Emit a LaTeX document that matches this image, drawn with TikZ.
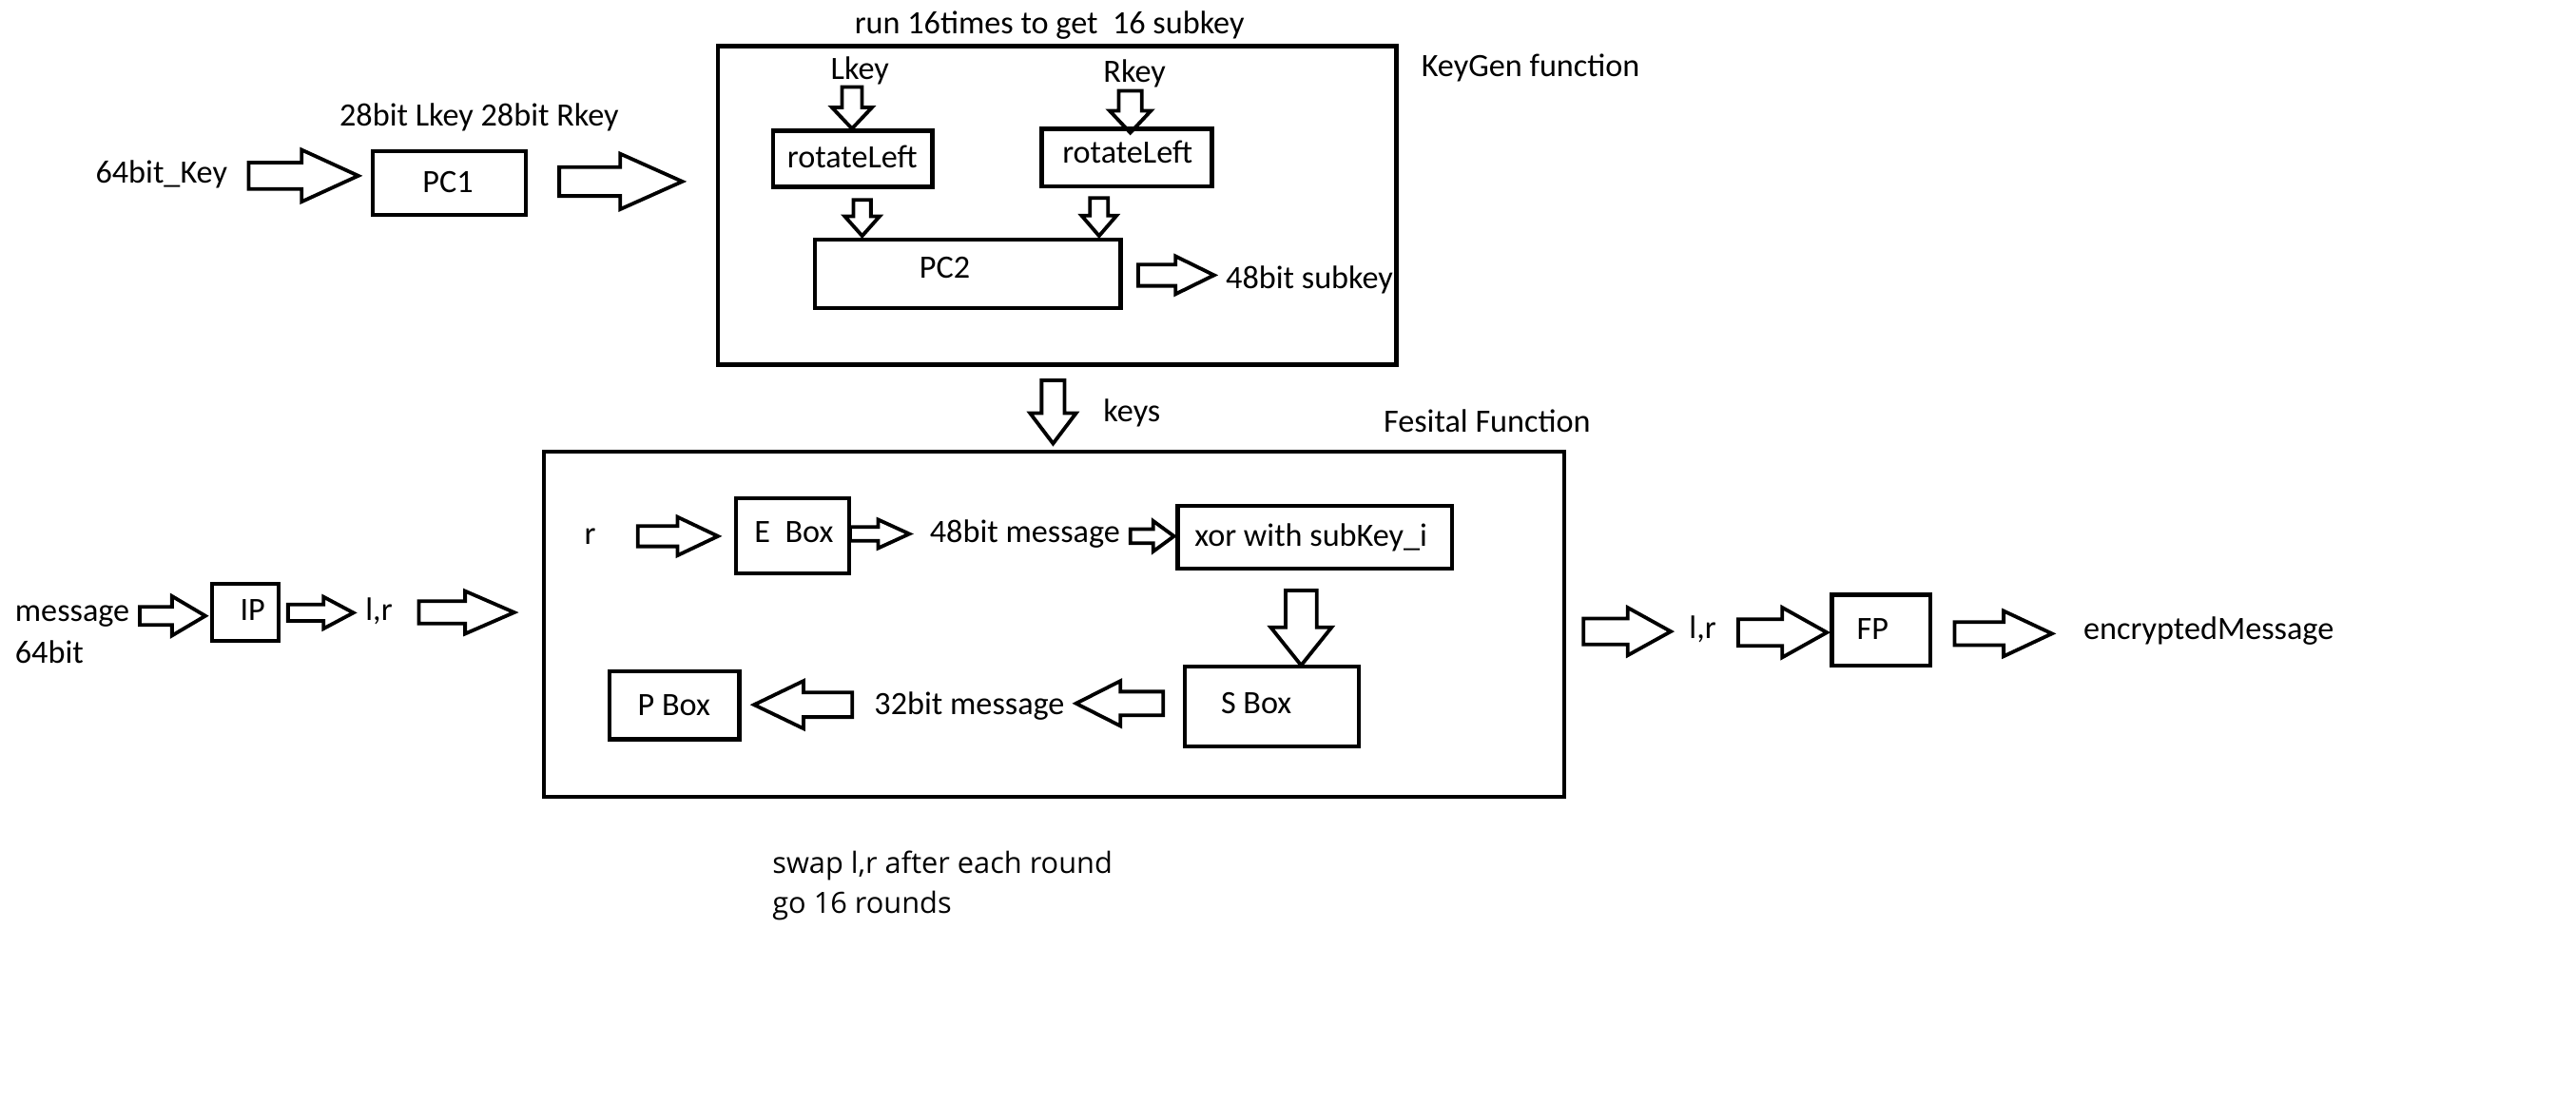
\documentclass[tikz,border=0pt]{standalone}
\usepackage{fontspec}
\setmainfont{Carlito}
\newfontfamily\notefont{Open Sans}
\usetikzlibrary{fit}
\tikzset{
  box/.style={draw, line width=2.5pt, inner sep=0pt},
  blk/.style={draw, line width=2.2pt, fill=white, line join=miter},
  txt/.style={inner sep=0pt, anchor=base west, font=\fontsize{19.8}{24}\selectfont},
  note/.style={inner sep=0pt, anchor=base west, font=\notefont\fontsize{17.8}{22}\selectfont},
}
% horizontal block arrow: tail x, tip x, centre y, shaft half, head half, head start x
\newcommand\blockH[6]{\draw[blk] (#1,{#3-#4}) -- (#6,{#3-#4}) -- (#6,{#3-#5}) -- (#2,#3) -- (#6,{#3+#5}) -- (#6,{#3+#4}) -- (#1,{#3+#4}) -- cycle;}
% vertical block arrow: centre x, tail y, tip y, shaft half, head half, head start y
\newcommand\blockV[6]{\draw[blk] ({#1-#4},#2) -- ({#1-#4},#6) -- ({#1-#5},#6) -- (#1,#3) -- ({#1+#5},#6) -- ({#1+#4},#6) -- ({#1+#4},#2) -- cycle;}
\begin{document}
\begin{tikzpicture}[x=1pt,y=-1pt]
\useasboundingbox[fill=white] (0,0) rectangle (1568,671.4);

% ---------- key schedule ----------
\node[txt] (key64) at (58,111.5) {64bit\_Key};
\blockH{151.4}{218.1}{107}{8}{15.8}{183.6}
\node[box, fit={(227,92)(320,131)}] (pc1) {};
\node[txt] (pc1t) at (257,117) {PC1};
\node[txt] (split) at (206.5,76.5) {28bit Lkey 28bit Rkey};
\blockH{340.4}{415.3}{110.5}{8.8}{16.9}{377.5}

\node[txt] (runt) at (520,20.5) {run 16times to get\ \ 16 subkey};
\node[txt] (kgt) at (865,46.5) {KeyGen function};

\node[txt] (lkey) at (505.5,48.5) {Lkey};
\node[txt] (rkey) at (671.5,50) {Rkey};
\blockV{518.6}{53}{78.3}{6.1}{12.2}{65.4}
\blockV{688}{55.3}{80.8}{7}{12.6}{67.4}

\node[box, fit={(470.4,79.5)(567.5,113.8)}] (rotl) {};
\node[txt] (rotlt) at (479,102) {rotateLeft};
\node[box, fit={(634,78.5)(737.7,113.4)}] (rotr) {};
\node[txt] (rotrt) at (646.5,99) {rotateLeft};

\blockV{524.8}{121.7}{143.6}{5.3}{10.6}{131.7}
\blockV{669}{120.5}{143.6}{5.5}{10.6}{131.3}

\node[box, fit={(496.1,146)(682.2,187.4)}] (pc2) {};
\node[txt] (pc2t) at (559.5,169.5) {PC2};
\blockH{692.8}{739}{167.5}{6.5}{11.5}{715.6}
\begin{scope}
  \clip (700,140) rectangle (848.5,195);
  \node[txt] (sub48) at (746,175.5) {48bit subkey};
\end{scope}

\node[box, fit={(437,28)(850,222)}] (keygen) {};

\blockV{641}{231.5}{270}{7}{14}{251.5}
\node[txt] (keys) at (671.5,256.5) {keys};
\node[txt] (fft) at (842,263) {Fesital Function};

% ---------- message path ----------
\node[txt] (msg) at (9,378) {message};
\node[txt] (msg64) at (9,403.5) {64bit};
\blockH{85.1}{125}{374.9}{5.5}{12}{104.7}
\node[box, fit={(128.9,355.4)(169.7,390)}] (ip) {};
\node[txt] (ipt) at (146,377.5) {IP};
\blockH{175.3}{215.1}{373}{5}{9.7}{196.9}
\node[txt] (lr1) at (222.3,377.5) {l,r};
\blockH{255}{313}{372.8}{6.8}{13}{283.1}

\node[box, fit={(331,275)(952,485)}] (feistel) {};

\node[txt] (rin) at (355.5,331.5) {r};
\blockH{388.2}{437}{326.4}{6.2}{11.7}{412.4}
\node[box, fit={(448,303.3)(517,349.2)}] (ebox) {};
\node[txt] (eboxt) at (459,330) {E\ \ Box};
\blockH{517.5}{553.5}{325}{4.2}{8.7}{534.5}
\node[txt] (m48) at (565.8,330) {48bit message};
\blockH{688}{714.6}{326.4}{4.3}{9.3}{701.9}
\node[box, fit={(716.8,308.1)(884,346.3)}] (xor) {};
\node[txt] (xort) at (727,332.3) {xor with subKey\_i};

\blockV{792}{359.4}{405}{9.5}{18.5}{381.9}
\node[box, fit={(721,405.6)(827,454.2)}] (sbox) {};
\node[txt] (sboxt) at (743,434.5) {S Box};
\blockH{708}{655}{428.2}{7.2}{13.7}{682}
\node[txt] (m32) at (532,435) {32bit message};
\blockH{518.8}{459}{429}{7.5}{14.5}{489.1}
\node[box, fit={(371,408.5)(450,450)}] (pbox) {};
\node[txt] (pboxt) at (388,435.5) {P Box};

\blockH{963.8}{1017}{384.4}{7.9}{14.5}{990.8}
\node[txt] (lr2) at (1028,388.5) {l,r};
\blockH{1058}{1112}{385}{8.1}{15.2}{1084.8}
\node[box, fit={(1115,362)(1175,405)}] (fp) {};
\node[txt] (fpt) at (1130,389.5) {FP};
\blockH{1189.7}{1249}{385.7}{7}{13.8}{1219.6}
\node[txt] (enc) at (1268,389.5) {encryptedMessage};

\node[note] (swap) at (470,531.5) {swap l,r after each round};
\node[note] (go16) at (470,556) {go 16 rounds};
\end{tikzpicture}
\end{document}
